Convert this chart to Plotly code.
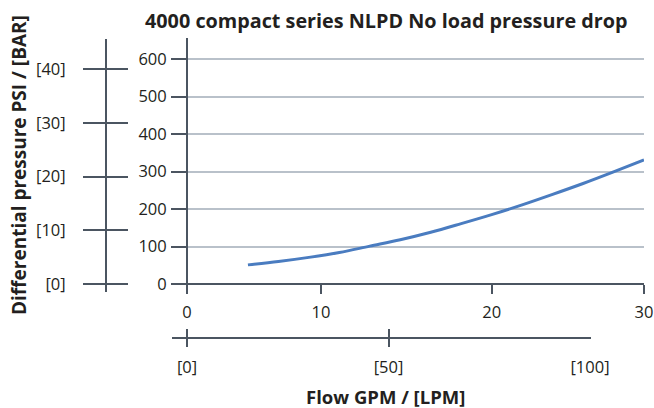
import plotly.graph_objects as go

# ---- data ----
flow_gpm = [4, 6, 8, 10, 12, 14, 16, 18, 20, 22, 24, 26, 28, 30]
dp_psi = [51, 60, 71, 84, 101, 118, 138, 161, 185, 211, 239, 268, 299, 331]

psi_tickvals = [0, 100, 200, 300, 400, 500, 600]
gpm_tickvals = [0, 8.8, 20, 30]
gpm_ticktext = ["0", "10", "20", "30"]
bar_tickvals = [0, 10, 20, 30, 40]
bar_ticktext = ["[0]", "[10]", "[20]", "[30]", "[40]"]
lpm_tickvals = [0, 50, 100]
lpm_ticktext = ["[0]", "[50]", "[100]"]

W, H = 654, 408
AX = "#4b5561"
GRID = "#b9c1ca"
TXT = "#231f20"
FONT = "Open Sans"


def px(x):
    return x / W


def py(y):
    return (H - y) / H


fig = go.Figure()
fig.add_trace(go.Scatter(x=flow_gpm, y=dp_psi, mode="lines",
                         line=dict(color="#4a7cc0", width=3, shape="spline",
                                   smoothing=1.0),
                         showlegend=False, hoverinfo="skip"))
# helper traces so the secondary scales get their own subplots
fig.add_trace(go.Scatter(x=[None], y=[None], xaxis="x2", yaxis="y2",
                         showlegend=False, hoverinfo="skip"))
fig.add_trace(go.Scatter(x=[None], y=[None], xaxis="x3", yaxis="y3",
                         showlegend=False, hoverinfo="skip"))

tickfont = dict(family=FONT, size=16.5, color=TXT)

fig.update_layout(
    template="none",
    width=W, height=H,
    margin=dict(l=0, r=0, t=0, b=0, pad=0),
    paper_bgcolor="white", plot_bgcolor="white",
    font=dict(family=FONT, color=TXT),
    xaxis=dict(domain=[px(172), px(644)], range=[-15 / 15.233, 30],
               anchor="free", position=py(284), automargin=False,
               showgrid=False, zeroline=False,
               showline=True, linecolor=AX, linewidth=2,
               ticks="outside", ticklen=9, tickwidth=2, tickcolor=AX,
               tickvals=gpm_tickvals, ticktext=gpm_ticktext,
               tickfont=tickfont, ticklabelstandoff=4),
    yaxis=dict(domain=[py(292), py(38)], range=[-8 / 0.375, 246 / 0.375],
               anchor="free", position=px(187), automargin=False,
               showgrid=True, gridcolor=GRID, gridwidth=1.5, zeroline=False,
               showline=True, linecolor=AX, linewidth=2,
               ticks="outside", ticklen=15, tickwidth=2, tickcolor=AX,
               tickvals=psi_tickvals, tickfont=tickfont, ticklabelstandoff=1),
    xaxis2=dict(domain=[px(83), px(128)], range=[0, 1], anchor="y2",
                visible=False, automargin=False),
    yaxis2=dict(domain=[py(292), py(39)], range=[-8 / 5.37, 245 / 5.37],
                anchor="free", position=px(106), automargin=False,
                showgrid=True, gridcolor=AX, gridwidth=2, zeroline=False,
                showline=True, linecolor=AX, linewidth=2,
                ticks="", tickvals=bar_tickvals, ticktext=bar_ticktext,
                tickfont=tickfont, ticklabelstandoff=36),
    xaxis3=dict(domain=[px(172), px(591)], range=[-15 / 4.03, 404 / 4.03],
                anchor="free", position=py(338), automargin=False,
                showgrid=True, gridcolor=AX, gridwidth=2, zeroline=False,
                showline=True, linecolor=AX, linewidth=2,
                ticks="", tickvals=lpm_tickvals, ticktext=lpm_ticktext,
                tickfont=tickfont, ticklabelstandoff=14),
    yaxis3=dict(domain=[py(347), py(329)], range=[0, 1], anchor="x3",
                visible=False, automargin=False),
    annotations=[
        dict(text="<b>4000 compact series NLPD No load pressure drop</b>",
             x=px(386), y=py(20), xref="paper", yref="paper",
             xanchor="center", yanchor="middle", showarrow=False,
             font=dict(family=FONT, size=19.8, color=TXT)),
        dict(text="<b>Differential pressure PSI / [BAR]</b>",
             x=px(19), y=py(165), xref="paper", yref="paper",
             xanchor="center", yanchor="middle", showarrow=False,
             textangle=-90, font=dict(family=FONT, size=19, color=TXT)),
        dict(text="<b>Flow GPM / [LPM]</b>",
             x=px(385), y=py(396), xref="paper", yref="paper",
             xanchor="center", yanchor="middle", showarrow=False,
             font=dict(family=FONT, size=18.5, color=TXT)),
    ],
)

fig.write_html(
    "out.html",
    config={"displayModeBar": False},
    post_script="document.body.style.margin='0';"
                "document.body.style.overflow='hidden';",
)
